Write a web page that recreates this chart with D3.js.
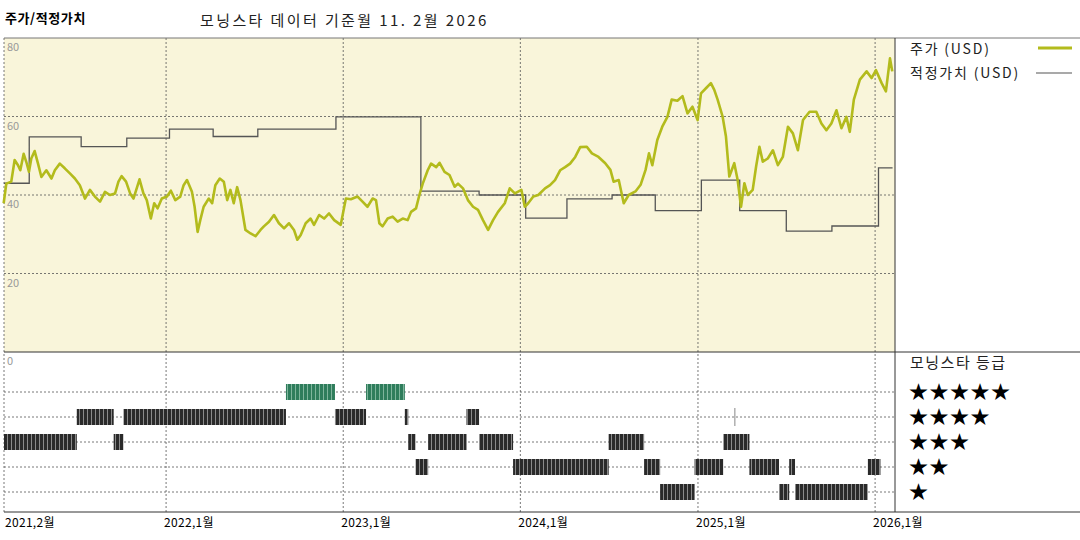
<!DOCTYPE html>
<html><head><meta charset="utf-8">
<script src="https://cdn.jsdelivr.net/npm/d3@7"></script>
<style>body{margin:0;background:#fff}svg{display:block}text{font-family:"Noto Sans CJK KR","Noto Sans",sans-serif}</style>
</head><body><svg id="chart" width="1080" height="540"></svg>
<script>
// price samples: decimal year, USD
var priceYears = [2021.083,2021.098,2021.126,2021.145,2021.164,2021.177,2021.196,2021.211,2021.226,2021.239,2021.258,2021.277,2021.296,2021.324,2021.353,2021.372,2021.400,2021.428,2021.457,2021.485,2021.513,2021.542,2021.570,2021.598,2021.627,2021.655,2021.683,2021.712,2021.731,2021.749,2021.774,2021.797,2021.816,2021.850,2021.872,2021.891,2021.914,2021.933,2021.952,2021.976,2022.005,2022.027,2022.052,2022.080,2022.099,2022.118,2022.146,2022.161,2022.178,2022.193,2022.212,2022.241,2022.260,2022.278,2022.303,2022.326,2022.345,2022.363,2022.382,2022.401,2022.420,2022.448,2022.477,2022.505,2022.533,2022.552,2022.581,2022.609,2022.637,2022.666,2022.694,2022.722,2022.741,
  2022.760,2022.788,2022.816,2022.835,2022.864,2022.892,2022.920,2022.949,2022.986,2023.015,2023.043,2023.081,2023.109,2023.137,2023.166,2023.185,2023.204,2023.222,2023.251,2023.279,2023.307,2023.336,2023.364,2023.383,2023.411,2023.430,2023.449,2023.477,2023.496,2023.525,2023.544,2023.572,2023.600,2023.629,2023.648,2023.676,2023.704,2023.733,2023.761,2023.789,2023.818,2023.846,2023.874,2023.912,2023.940,2023.969,2024.006,2024.025,2024.044,2024.073,2024.101,2024.139,2024.167,2024.195,2024.224,2024.252,2024.280,2024.309,2024.337,
  2024.374,2024.403,2024.440,2024.478,2024.507,2024.525,2024.554,2024.582,2024.610,2024.648,2024.677,2024.705,2024.724,2024.743,2024.771,2024.799,2024.828,2024.852,2024.884,2024.913,2024.941,2024.969,2024.998,2025.017,2025.045,2025.073,2025.092,2025.111,2025.139,2025.158,2025.177,2025.205,2025.224,2025.243,2025.262,2025.281,2025.309,2025.328,2025.347,2025.366,2025.394,2025.423,2025.451,2025.479,2025.508,2025.536,2025.564,2025.593,2025.630,2025.668,2025.697,2025.725,2025.753,2025.782,2025.810,2025.838,2025.857,2025.880,2025.914,2025.952,2025.980,2026.005,2026.037,2026.061,2026.084,2026.097];
var priceValues = [37.9,42.9,43.4,48.9,47.6,46.3,50.5,48.4,45.9,49.3,51.2,48.0,44.6,46.3,44.2,46.3,48.0,46.8,45.5,44.2,42.5,39.1,41.3,39.6,38.3,40.8,40.0,40.4,43.4,44.8,43.4,40.4,39.1,44.0,40.4,38.7,34.0,37.9,36.6,39.1,39.6,41.1,38.7,39.6,42.5,43.8,40.8,37.0,30.6,33.6,37.0,39.1,37.9,42.5,44.2,43.4,38.7,41.3,37.9,42.0,38.7,31.1,30.2,29.5,31.1,32.0,33.2,34.9,32.8,31.5,32.8,31.1,28.6,
  29.8,32.8,34.0,32.4,34.9,34.0,35.3,33.6,32.4,39.1,38.9,39.6,38.3,37.0,39.1,38.7,32.8,32.0,34.0,34.5,33.2,34.0,33.6,35.7,36.6,40.0,42.9,46.3,48.0,47.1,48.2,45.9,45.1,42.1,42.9,41.7,38.7,37.0,36.2,33.6,31.1,33.6,35.7,37.9,41.7,40.4,41.3,37.0,37.9,39.6,40.0,41.7,42.5,43.8,46.3,47.1,48.0,49.7,52.2,
  52.3,50.6,49.7,48.1,46.4,43.4,43.8,37.9,40.0,40.9,42.6,46.4,50.6,47.6,54.0,57.4,59.9,64.3,64.0,65.2,60.8,62.5,59.1,65.9,67.2,68.5,66.8,64.3,60.0,54.9,44.7,48.1,43.8,37.0,43.0,40.0,41.3,47.2,52.3,48.5,49.3,51.4,47.6,49.7,57.4,55.7,51.4,59.1,61.2,61.2,58.2,56.5,58.2,61.6,57.0,59.9,56.1,64.3,69.4,71.5,69.8,71.8,68.5,66.4,74.8,71.5];

// fair value steps: start date, value
var fairDates = ["2021-02-01","2021-03-25","2021-07-10","2021-10-12","2022-01-08","2022-04-08","2022-07-09","2022-12-17","2023-06-10","2023-10-08","2024-01-12","2024-04-06","2024-07-08","2024-10-05","2025-01-08","2025-03-28","2025-07-02","2025-10-04","2026-01-08"];
var fairValues = [43,54.8,52.3,54.5,56.8,54.9,56.8,59.9,41,40,34.1,39,40,36,43.8,36,30.8,32.1,46.9];
var endDate = "2026-02-06";

// star rating periods
var ratingStart = ["2021-02-01","2021-07-01","2021-09-15","2021-10-05","2022-09-05","2022-12-15","2023-02-17","2023-05-08","2023-05-15","2023-05-30","2023-06-25","2023-09-12","2023-10-08","2023-12-17","2024-07-01","2024-09-12","2024-10-15","2024-12-25","2025-02-22","2025-03-17","2025-04-17","2025-06-17","2025-07-08","2025-07-20","2025-12-17"];
var ratingEnd   = ["2021-07-01","2021-09-15","2021-10-05","2022-09-05","2022-12-15","2023-02-17","2023-05-08","2023-05-15","2023-05-30","2023-06-25","2023-09-12","2023-10-08","2023-12-17","2024-07-01","2024-09-12","2024-10-15","2024-12-25","2025-02-22","2025-04-17","2025-03-18","2025-06-17","2025-07-08","2025-07-20","2025-12-17","2026-01-12"];
var ratingStars = [3,4,3,4,5,4,5,4,3,2,3,4,3,2,3,2,1,2,3,4,2,1,2,1,2];

var xTickDates = ["2021-02-01","2022-01-01","2023-01-01","2024-01-01","2025-01-01","2026-01-01"];
var xTickLabels = ["2021,2월","2022,1월","2023,1월","2024,1월","2025,1월","2026,1월"];
var yTicks = [0,20,40,60,80];

var parse = d3.timeParse("%Y-%m-%d");
function fromYear(y) {
  var yr = Math.floor(y), s = new Date(yr, 0, 1), e = new Date(yr + 1, 0, 1);
  return new Date(+s + (y - yr) * (e - s));
}

var svg = d3.select("#chart");
var L = 4, R = 895, T = 38, M = 352, B = 512;
var x = d3.scaleTime().domain([parse("2021-02-01"), parse("2026-02-11")]).range([L, R]);
var y = d3.scaleLinear().domain([0, 80]).range([M, T]);
var rowY = d3.scaleLinear().domain([5, 1]).range([392, 492]);

// patterns for rating bars
var defs = svg.append("defs");
[["darkStripe", "#2a2a2a", "#8a8a8a"], ["greenStripe", "#2f7d5c", "#7fb59c"]].forEach(function(p) {
  var pat = defs.append("pattern").attr("id", p[0]).attr("patternUnits", "userSpaceOnUse")
    .attr("width", 4).attr("height", 10);
  pat.append("rect").attr("width", 4).attr("height", 10).attr("fill", p[1]);
  pat.append("rect").attr("x", 3).attr("width", 1).attr("height", 10).attr("fill", p[2]);
});

// titles
svg.append("text").attr("x", 5).attr("y", 23).attr("font-size", 13).attr("font-weight", "bold")
  .attr("letter-spacing", 0.6).text("주가/적정가치");
svg.append("text").attr("x", 200).attr("y", 26).attr("font-size", 15).attr("fill", "#222")
  .attr("letter-spacing", 2.4).text("모닝스타 데이터 기준월 11. 2월 2026");

// price panel background
svg.append("rect").attr("x", L).attr("y", T).attr("width", R - L).attr("height", M - T).attr("fill", "#f9f5da");

// grid
var dash = "2,2";
svg.selectAll(".hgrid").data([20, 40, 60]).enter().append("line")
  .attr("x1", L).attr("x2", R).attr("y1", function(d) { return y(d); }).attr("y2", function(d) { return y(d); })
  .attr("stroke", "#555").attr("stroke-dasharray", dash).attr("stroke-width", 0.8);
svg.selectAll(".rgrid").data([5, 4, 3, 2, 1]).enter().append("line")
  .attr("x1", L).attr("x2", R).attr("y1", function(d) { return rowY(d); }).attr("y2", function(d) { return rowY(d); })
  .attr("stroke", "#555").attr("stroke-dasharray", dash).attr("stroke-width", 0.8);
svg.selectAll(".vgrid").data(xTickDates.slice(1)).enter().append("line")
  .attr("x1", function(d) { return x(parse(d)); }).attr("x2", function(d) { return x(parse(d)); })
  .attr("y1", T).attr("y2", B).attr("stroke", "#555").attr("stroke-dasharray", dash).attr("stroke-width", 0.8);
svg.append("line").attr("x1", L).attr("x2", L).attr("y1", T).attr("y2", B)
  .attr("stroke", "#555").attr("stroke-dasharray", dash).attr("stroke-width", 0.8);

// y labels
svg.selectAll(".ylab").data(yTicks).enter().append("text")
  .attr("x", L + 3).attr("y", function(d) { return y(d) + 13; })
  .attr("font-size", 11).attr("fill", "#999").text(function(d) { return d; });

// fair value step line
var fair = fairDates.map(function(d, i) { return { date: parse(d), value: fairValues[i] }; });
fair.push({ date: parse(endDate), value: fairValues[fairValues.length - 1] });
svg.append("path").datum(fair)
  .attr("d", d3.line().curve(d3.curveStepAfter).x(function(d) { return x(d.date); }).y(function(d) { return y(d.value); }))
  .attr("fill", "none").attr("stroke", "#555").attr("stroke-width", 1.3);

// price line
var price = priceYears.map(function(d, i) { return { date: fromYear(d), value: priceValues[i] }; });
svg.append("path").datum(price)
  .attr("d", d3.line().x(function(d) { return x(d.date); }).y(function(d) { return y(d.value); }))
  .attr("fill", "none").attr("stroke", "#b3bb1c").attr("stroke-width", 2.6).attr("stroke-linejoin", "round");

// rating bars
var ratings = ratingStart.map(function(d, i) { return { s: parse(d), e: parse(ratingEnd[i]), stars: ratingStars[i] }; });
svg.selectAll(".rbar").data(ratings).enter().append("rect")
  .attr("x", function(d) { return x(d.s); })
  .attr("width", function(d) { return Math.max(1, x(d.e) - x(d.s)); })
  .attr("y", function(d) { return rowY(d.stars) - (x(d.e) - x(d.s) < 3 ? 9 : 8); })
  .attr("height", function(d) { return x(d.e) - x(d.s) < 3 ? 18 : 16; })
  .attr("fill", function(d) { return d.stars === 5 ? "url(#greenStripe)" : (x(d.e) - x(d.s) < 3 ? "#888" : "url(#darkStripe)"); });

// frame
svg.append("line").attr("x1", L).attr("x2", 1080).attr("y1", T).attr("y2", T).attr("stroke", "#777");
svg.append("line").attr("x1", L).attr("x2", 1080).attr("y1", M).attr("y2", M).attr("stroke", "#333");
svg.append("line").attr("x1", L).attr("x2", 1080).attr("y1", B).attr("y2", B).attr("stroke", "#333");
svg.append("line").attr("x1", R).attr("x2", R).attr("y1", T).attr("y2", B).attr("stroke", "#333");

// x labels
svg.selectAll(".xlab").data(xTickDates).enter().append("text")
  .attr("x", function(d, i) { return i === 0 ? 5 : x(parse(d)) - 2; })
  .attr("y", 527).attr("font-size", 12).attr("letter-spacing", 0.3).text(function(d, i) { return xTickLabels[i]; });

// legend
svg.append("text").attr("x", 910).attr("y", 54).attr("font-size", 14).attr("fill", "#222").attr("letter-spacing", 1.8).text("주가 (USD)");
svg.append("text").attr("x", 910).attr("y", 78).attr("font-size", 14).attr("fill", "#222").attr("letter-spacing", 1.8).text("적정가치 (USD)");
svg.append("line").attr("x1", 1038).attr("x2", 1072).attr("y1", 48).attr("y2", 48).attr("stroke", "#b3bb1c").attr("stroke-width", 3);
svg.append("line").attr("x1", 1036).attr("x2", 1072).attr("y1", 73).attr("y2", 73).attr("stroke", "#555").attr("stroke-width", 1.2);
svg.append("text").attr("x", 910).attr("y", 368).attr("font-size", 15).attr("fill", "#222").attr("letter-spacing", 1.5).text("모닝스타 등급");
svg.selectAll(".stars").data([5, 4, 3, 2, 1]).enter().append("text")
  .attr("x", 909).attr("y", function(d) { return rowY(d) + 7; })
  .attr("font-size", 19).attr("letter-spacing", 1.5).attr("font-family", "DejaVu Sans")
  .text(function(d) { return d3.range(d).map(function() { return "★"; }).join(""); });
</script></body></html>
